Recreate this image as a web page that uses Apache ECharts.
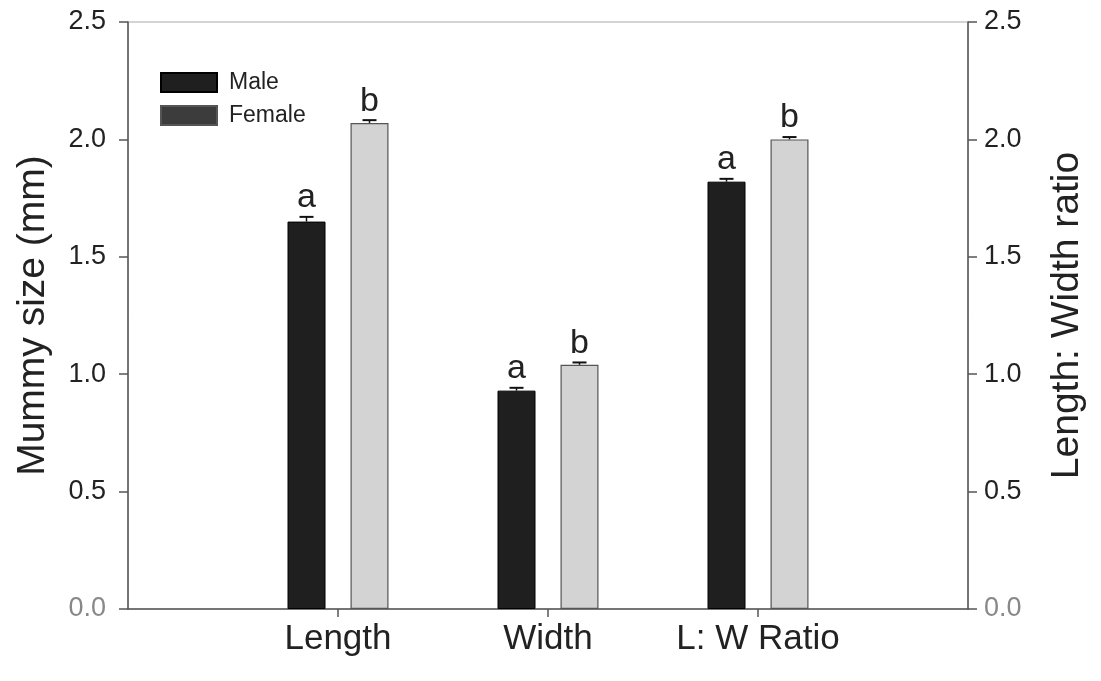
<!DOCTYPE html>
<html>
<head>
<meta charset="utf-8">
<script src="https://cdn.jsdelivr.net/npm/echarts@6/dist/echarts.min.js"></script>
<style>html,body{margin:0;padding:0;background:#fff}#c{width:1101px;height:681px}</style>
</head>
<body>
<div id="c"></div>
<script>
// ---- data ----
const categories = ['Length', 'Width', 'L: W Ratio'];
const maleValues = [1.65, 0.93, 1.82];
const femaleValues = [2.07, 1.04, 2.00];
const maleErrors = [0.02, 0.012, 0.012];
const femaleErrors = [0.012, 0.01, 0.01];
const maleLetters = ['a', 'a', 'a'];
const femaleLetters = ['b', 'b', 'b'];
const yTicks = [0, 0.5, 1.0, 1.5, 2.0, 2.5];

// ---- build ----
const FONT = 'Liberation Sans, Arial, sans-serif';
const axisCats = [''].concat(categories, ['']);
const pad = arr => [null].concat(arr, [null]);
const BAR_W = 38, GAP_PX = 25;
const SHIFT = (BAR_W + GAP_PX) / 2;

function errSeries(name, values, errors, letters, shift, letterSize) {
  return {
    type: 'custom', name: name, z: 5, silent: true,
    data: values.map((v, i) => [i + 1, v, errors[i]]),
    renderItem: function (params, api) {
      const base = api.coord([api.value(0), api.value(1)]);
      const top = api.coord([api.value(0), api.value(1) + api.value(2)]);
      const x = base[0] + shift;
      const capHalf = 7;
      return {
        type: 'group', children: [
          { type: 'line', shape: { x1: x, y1: base[1], x2: x, y2: top[1] }, style: { stroke: '#111', lineWidth: 1.5 } },
          { type: 'line', shape: { x1: x - capHalf, y1: top[1], x2: x + capHalf, y2: top[1] }, style: { stroke: '#111', lineWidth: 2 } },
          { type: 'text', x: x, y: top[1] - 2, style: { text: letters[params.dataIndex], font: letterSize + 'px ' + FONT, fill: '#222', align: 'center', verticalAlign: 'bottom' } }
        ]
      };
    }
  };
}

const labelColor = v => (Number(v) === 0 ? '#888' : '#222');

const option = {
  animation: false,
  backgroundColor: '#fff',
  grid: { left: 128, right: 133, top: 22, bottom: 72, show: true, borderColor: '#aaa', borderWidth: 1, backgroundColor: 'transparent' },
  legend: {
    data: [{ name: 'Male' }, { name: 'Female', itemStyle: { color: '#3c3c3c' } }],
    orient: 'vertical', left: 160, top: 71, padding: 0,
    itemWidth: 56, itemHeight: 19, itemGap: 10, icon: 'rect',
    textStyle: { fontSize: 23, color: '#222', fontFamily: FONT, padding: [0, 0, 0, 7] }
  },
  xAxis: {
    type: 'category', data: axisCats, boundaryGap: false,
    axisLine: { lineStyle: { color: '#555', width: 1.5 } },
    axisTick: { length: 8, lineStyle: { color: '#555', width: 1.5 }, interval: (i) => i > 0 && i < axisCats.length - 1 },
    axisLabel: { interval: 0, fontSize: 35, color: '#222', fontFamily: FONT, margin: 13 },
    splitLine: { show: false }
  },
  yAxis: [
    {
      type: 'value', min: yTicks[0], max: yTicks[yTicks.length - 1], interval: 0.5, position: 'left',
      name: 'Mummy size (mm)', nameLocation: 'middle', nameGap: 75,
      nameTextStyle: { fontSize: 39, color: '#222', fontFamily: FONT },
      axisLine: { show: true, lineStyle: { color: '#555', width: 1.5 } },
      axisTick: { show: true, length: 9, lineStyle: { color: '#555', width: 1.5 } },
      axisLabel: { fontSize: 27, color: labelColor, fontFamily: FONT, margin: 22, formatter: v => v.toFixed(1) },
      splitLine: { show: false }
    },
    {
      type: 'value', min: yTicks[0], max: yTicks[yTicks.length - 1], interval: 0.5, position: 'right',
      name: 'Length: Width ratio', nameLocation: 'middle', nameGap: 80,
      nameTextStyle: { fontSize: 39, color: '#222', fontFamily: FONT },
      axisLine: { show: true, lineStyle: { color: '#555', width: 1.5 } },
      axisTick: { show: true, length: 9, lineStyle: { color: '#555', width: 1.5 } },
      axisLabel: { fontSize: 27, color: labelColor, fontFamily: FONT, margin: 16, formatter: v => v.toFixed(1) },
      splitLine: { show: false }
    }
  ],
  series: [
    {
      name: 'Male', type: 'bar', data: pad(maleValues), barWidth: BAR_W, barGap: (GAP_PX / BAR_W * 100) + '%',
      itemStyle: { color: '#1f1f1f', borderColor: '#000', borderWidth: 1 }
    },
    {
      name: 'Female', type: 'bar', data: pad(femaleValues), barWidth: BAR_W,
      itemStyle: { color: '#d3d3d3', borderColor: '#555', borderWidth: 1.2 }
    },
    errSeries('MaleErr', maleValues, maleErrors, maleLetters, -SHIFT, 34),
    errSeries('FemaleErr', femaleValues, femaleErrors, femaleLetters, SHIFT, 34)
  ]
};

const chart = echarts.init(document.getElementById('c'), null, { renderer: 'canvas' });
chart.setOption(option);
</script>
</body>
</html>
